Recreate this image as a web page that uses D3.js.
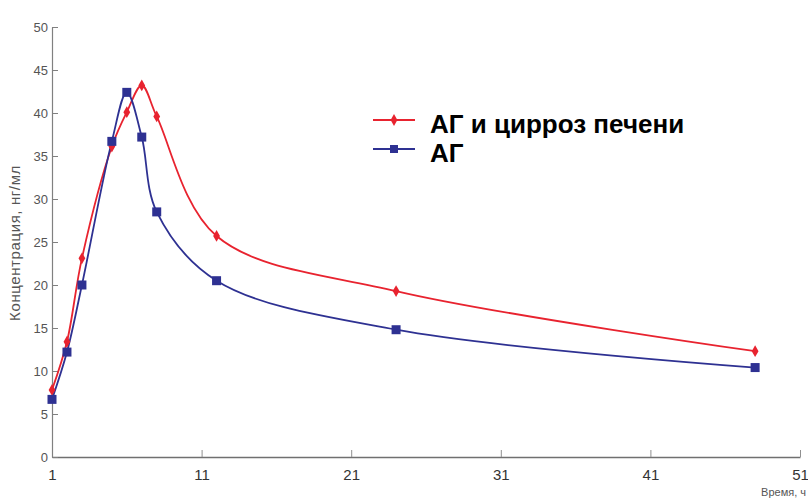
<!DOCTYPE html>
<html>
<head>
<meta charset="utf-8">
<script src="https://cdn.jsdelivr.net/npm/d3@7"></script>
<style>
body{margin:0;background:#fff;}
svg{display:block;font-family:'Liberation Sans',Arial,sans-serif;}
</style>
</head>
<body>
<div id="chart"></div>
<script>
// time points, hours
const hours = [1, 2, 3, 5, 6, 7, 8, 12, 24, 48];
// concentration, ng/ml
const cirrhosis = [7.8, 13.4, 23.1, 36.1, 40.1, 43.2, 39.6, 25.7, 19.3, 12.3];
const ag = [6.7, 12.2, 20.0, 36.7, 42.4, 37.2, 28.5, 20.5, 14.8, 10.4];
const xTicks = [1, 11, 21, 31, 41, 51];
const yTicks = [0, 5, 10, 15, 20, 25, 30, 35, 40, 45, 50];
const seriesNames = ['АГ и цирроз печени', 'АГ'];

const width = 808, height = 501;
const margin = {top: 27, right: 8, bottom: 44, left: 52};

const x = d3.scaleLinear().domain([1, 51]).range([margin.left, width - margin.right]);
const y = d3.scaleLinear().domain([0, 50]).range([height - margin.bottom, margin.top]);

const svg = d3.select('#chart')
  .append('svg')
  .attr('width', width)
  .attr('height', height);

// x axis
const gx = svg.append('g')
  .attr('transform', `translate(0,${y(0)})`)
  .call(d3.axisBottom(x).tickValues(xTicks).tickSizeInner(-7).tickSizeOuter(0).tickPadding(12));
gx.select('.domain').attr('stroke', '#707070').attr('stroke-width', 1.6);
gx.selectAll('.tick line').attr('stroke', '#909090');
gx.selectAll('.tick text').style('font-size', '15px').attr('fill', '#333');

// y axis
const gy = svg.append('g')
  .attr('transform', `translate(${x(1)},0)`)
  .call(d3.axisLeft(y).tickValues(yTicks).tickSizeInner(-6).tickSizeOuter(0).tickPadding(4));
gy.select('.domain').attr('stroke', '#808080').attr('stroke-width', 1.2);
gy.selectAll('.tick line').attr('stroke', '#808080');
gy.selectAll('.tick text').style('font-size', '13px').attr('fill', '#555');

// axis titles
svg.append('text')
  .attr('transform', `translate(20,243) rotate(-90)`)
  .attr('text-anchor', 'middle')
  .style('font-size', '15px')
  .style('letter-spacing', '0.6px')
  .attr('fill', '#555')
  .text('Концентрация, нг/мл');

svg.append('text')
  .attr('x', 806)
  .attr('y', 496)
  .attr('text-anchor', 'end')
  .style('font-size', '11px')
  .attr('fill', '#555')
  .text('Время, ч');

const line = d3.line()
  .x(d => x(d[0]))
  .y(d => y(d[1]))
  .curve(d3.curveCatmullRom.alpha(0.5));

const redCol = '#e8232f';
const blueCol = '#2e3192';

const redData = hours.map((h, i) => [h, cirrhosis[i]]);
const blueData = hours.map((h, i) => [h, ag[i]]);

svg.append('path')
  .datum(redData)
  .attr('fill', 'none')
  .attr('stroke', redCol)
  .attr('stroke-width', 1.8)
  .attr('d', line);

svg.append('path')
  .datum(blueData)
  .attr('fill', 'none')
  .attr('stroke', blueCol)
  .attr('stroke-width', 1.8)
  .attr('d', line);

const diamond = d3.symbol().type(d3.symbolDiamond).size(40);

svg.selectAll('.red-pt')
  .data(redData)
  .join('path')
  .attr('class', 'red-pt')
  .attr('transform', d => `translate(${x(d[0])},${y(d[1])})`)
  .attr('d', diamond)
  .attr('fill', redCol);

svg.selectAll('.blue-pt')
  .data(blueData)
  .join('rect')
  .attr('class', 'blue-pt')
  .attr('x', d => x(d[0]) - 4.5)
  .attr('y', d => y(d[1]) - 4.5)
  .attr('width', 9)
  .attr('height', 9)
  .attr('fill', blueCol);

// legend
const legend = svg.append('g');
const legendRows = [
  {name: seriesNames[0], color: redCol, yPos: 120, shape: 'diamond'},
  {name: seriesNames[1], color: blueCol, yPos: 149, shape: 'square'}
];
legendRows.forEach(r => {
  legend.append('line')
    .attr('x1', 373).attr('x2', 415)
    .attr('y1', r.yPos).attr('y2', r.yPos)
    .attr('stroke', r.color).attr('stroke-width', 2);
  if (r.shape === 'diamond') {
    legend.append('path')
      .attr('transform', `translate(394,${r.yPos})`)
      .attr('d', diamond)
      .attr('fill', r.color);
  } else {
    legend.append('rect')
      .attr('x', 390).attr('y', r.yPos - 4)
      .attr('width', 8).attr('height', 8)
      .attr('fill', r.color);
  }
  legend.append('text')
    .attr('x', 430)
    .attr('y', r.yPos + 13)
    .style('font-size', '26px')
    .style('font-weight', 'bold')
    .attr('fill', '#000')
    .text(r.name);
});
</script>
</body>
</html>
